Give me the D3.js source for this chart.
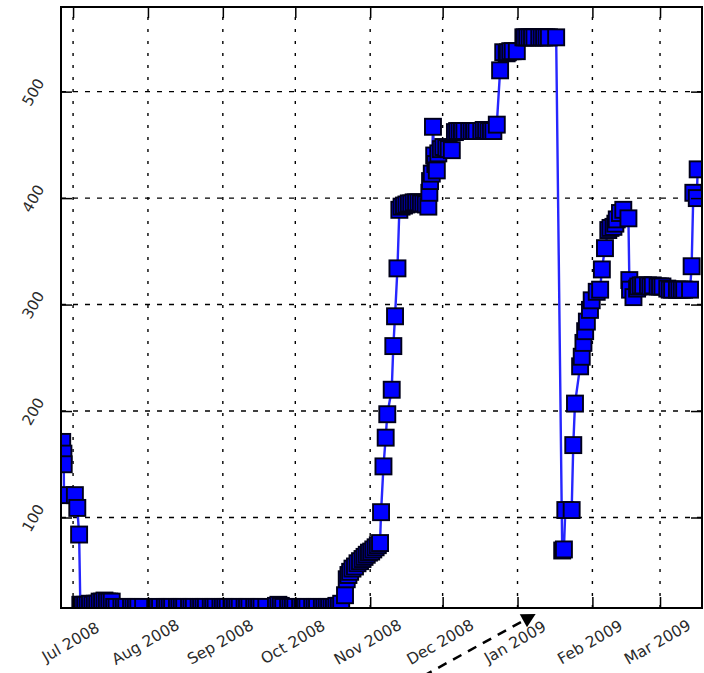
<!DOCTYPE html>
<html>
<head>
<meta charset="utf-8">
<script src="https://cdn.jsdelivr.net/npm/d3@7"></script>
<style>
  html, body { margin: 0; padding: 0; background: #fff; }
  svg { display: block; }
</style>
</head>
<body>
<svg id="chart" width="704" height="673"></svg>
<script>
// ---- data -------------------------------------------------------------
// Sample timestamps ("YYYY-MM-DD" or "YYYY-MM-DD HH:MM") and the value at each.
const dates = [
  "2008-06-26 12:00","2008-06-27 00:00","2008-06-27 03:00","2008-06-27 06:00","2008-07-01 18:00","2008-07-02 18:00","2008-07-03 12:00",
  "2008-07-04","2008-07-05","2008-07-06","2008-07-07","2008-07-08","2008-07-09","2008-07-10","2008-07-11",
  "2008-07-12","2008-07-13","2008-07-14","2008-07-15","2008-07-16","2008-07-17",
  "2008-07-18","2008-07-19","2008-07-21","2008-07-22","2008-07-23","2008-07-25","2008-07-26","2008-07-27","2008-07-28","2008-07-30",
  "2008-08-04","2008-08-05","2008-08-06","2008-08-08","2008-08-09","2008-08-10","2008-08-11","2008-08-13","2008-08-14","2008-08-15",
  "2008-08-16","2008-08-18","2008-08-19","2008-08-20","2008-08-22","2008-08-23","2008-08-24","2008-08-25","2008-08-27","2008-08-28",
  "2008-08-29","2008-08-31",
  "2008-09-01","2008-09-02","2008-09-03","2008-09-05","2008-09-06","2008-09-07","2008-09-08","2008-09-10","2008-09-11","2008-09-12",
  "2008-09-14","2008-09-15","2008-09-16","2008-09-17","2008-09-19",
  "2008-09-23","2008-09-24","2008-09-25","2008-09-26","2008-09-28","2008-09-29","2008-09-30",
  "2008-10-01","2008-10-03","2008-10-04","2008-10-05","2008-10-06","2008-10-08","2008-10-09","2008-10-10","2008-10-12","2008-10-13",
  "2008-10-14","2008-10-15","2008-10-16","2008-10-17","2008-10-18","2008-10-19","2008-10-20",
  "2008-10-21 14:00","2008-10-22 07:00","2008-10-23 00:00","2008-10-23 17:00","2008-10-24 16:00","2008-10-25 17:00","2008-10-26 18:00","2008-10-27 19:00","2008-10-28 20:00",
  "2008-10-29 16:00","2008-10-30 14:00","2008-10-31 12:00","2008-11-01 10:00","2008-11-02 07:00","2008-11-03 06:00","2008-11-04 04:00","2008-11-05 02:00",
  "2008-11-05 12:00","2008-11-06 12:00","2008-11-07 10:00","2008-11-08 02:00","2008-11-09 22:00","2008-11-10 14:00","2008-11-11 07:00","2008-11-12 07:00","2008-11-13 02:00",
  "2008-11-14","2008-11-15","2008-11-16","2008-11-17","2008-11-18","2008-11-19","2008-11-20","2008-11-21","2008-11-22","2008-11-23","2008-11-24",
  "2008-11-25 02:00","2008-11-25 12:00","2008-11-25 19:00","2008-11-26 12:00","2008-11-27 00:00","2008-11-27 12:00","2008-11-28 00:00","2008-11-28 14:00","2008-11-29 05:00",
  "2008-11-30 06:00","2008-12-01 07:00","2008-12-02 12:00","2008-12-03 12:00","2008-12-04 19:00",
  "2008-12-06 02:00","2008-12-07","2008-12-08","2008-12-09","2008-12-10","2008-12-12","2008-12-13","2008-12-14","2008-12-15","2008-12-17",
  "2008-12-18","2008-12-19","2008-12-20","2008-12-21","2008-12-22","2008-12-23 10:00","2008-12-24 19:00",
  "2008-12-26 02:00","2008-12-27 12:00","2008-12-28","2008-12-29","2008-12-30","2008-12-31 17:00",
  "2009-01-03 10:00","2009-01-04","2009-01-05","2009-01-06","2009-01-07","2009-01-08","2009-01-10","2009-01-11","2009-01-12","2009-01-13","2009-01-14","2009-01-17",
  "2009-01-19 12:00","2009-01-20 05:00","2009-01-20 19:00","2009-01-23 10:00","2009-01-24 02:00","2009-01-24 19:00",
  "2009-01-26 22:00","2009-01-27 14:00","2009-01-28 07:00","2009-01-29 00:00","2009-01-29 17:00","2009-01-31 00:00","2009-01-31 17:00",
  "2009-02-02 19:00","2009-02-04 05:00","2009-02-04 22:00","2009-02-06 05:00","2009-02-07 14:00","2009-02-08 12:00","2009-02-09 17:00","2009-02-10 12:00","2009-02-11 02:00","2009-02-12 10:00","2009-02-13 19:00",
  "2009-02-15 22:00","2009-02-16 07:00","2009-02-16 14:00","2009-02-18 00:00","2009-02-19 12:00","2009-02-20","2009-02-21","2009-02-22","2009-02-24","2009-02-25","2009-02-26","2009-02-28",
  "2009-03-01","2009-03-02","2009-03-04","2009-03-05","2009-03-06","2009-03-08","2009-03-09","2009-03-10","2009-03-11","2009-03-13 10:00","2009-03-14 02:00","2009-03-14 19:00","2009-03-16 05:00","2009-03-16 14:00"
];
const values = [
  171,160,150,121,121,109,84,
  18,18,18,18,19,18,19,19,
  21,21,22,21,21,21,
  16,16,16,16,16,16,16,16,16,16,
  16,16,16,16,16,16,16,16,16,16,
  16,16,16,16,16,16,16,16,16,16,
  16,16,
  16,16,16,16,16,16,16,16,16,16,
  16,16,16,16,16,
  17,18,17,16,16,16,16,
  16,16,16,16,16,16,16,16,16,16,
  16,16,16,16,17,17,19,
  27,42,46,49,52,54,57,59,61,
  63,65,67,68,70,72,74,76,
  105,148,175,197,220,261,289,334,389,
  392,393,394,395,395,396,396,396,395,395,394,
  392,405,416,423,467,440,432,426,442,
  446,448,447,446,445,
  462,463,463,463,463,463,463,463,463,463,
  464,464,463,463,463,469,520,
  537,536,537,538,538,538,
  551,551,551,551,551,551,551,551,551,551,551,551,
  69,70,107,107,168,207,
  242,251,264,275,284,295,304,
  312,314,333,353,370,372,373,376,380,386,389,
  381,323,314,307,315,317,318,318,318,317,318,317,
  317,317,315,314,314,314,314,314,314,314,336,405,400,427
];

// Axis ticks and view extents
const xTickDates  = ["2008-07-01","2008-08-01","2008-09-01","2008-10-01","2008-11-01","2008-12-01","2009-01-01","2009-02-01","2009-03-01"];
const xTickLabels = ["Jul 2008","Aug 2008","Sep 2008","Oct 2008","Nov 2008","Dec 2008","Jan 2009","Feb 2009","Mar 2009"];
const yTicks      = [100, 200, 300, 400, 500];
const xExtent     = ["2008-06-26 00:00", "2009-03-18 09:00"];
const yExtent     = [15, 579.5];

// Annotation arrow: from a point below the axis toward early January
const arrowFrom = "2008-11-23 00:00";
const arrowTo   = "2009-01-08 12:00";

// ---- helpers ---------------------------------------------------------------
const parseHM = d3.timeParse("%Y-%m-%d %H:%M");
const parseD  = d3.timeParse("%Y-%m-%d");
const parse = s => parseHM(s) || parseD(s);

const points = dates.map((d, i) => ({ t: parse(d), v: values[i] }));

// ---- layout ----------------------------------------------------------------
const plot = { left: 61, right: 702, top: 7, bottom: 608 };
const FONT = "DejaVu Sans";
const TEXT_COLOR = "#2a2a2a";

const svg = d3.select("#chart");

const x = d3.scaleTime()
  .domain(xExtent.map(parse))
  .range([plot.left, plot.right]);

const y = d3.scaleLinear()
  .domain(yExtent)
  .range([plot.bottom, plot.top]);

svg.append("defs").append("clipPath").attr("id", "plot-clip")
  .append("rect")
  .attr("x", plot.left).attr("y", plot.top)
  .attr("width", plot.right - plot.left)
  .attr("height", plot.bottom - plot.top);

// ---- grid ------------------------------------------------------------------
const grid = svg.append("g").attr("class", "grid");

grid.selectAll("line.vx")
  .data(xTickDates.map(parse))
  .join("line")
  .attr("class", "vx")
  .attr("x1", d => x(d)).attr("x2", d => x(d))
  .attr("y1", plot.bottom).attr("y2", plot.top)
  .attr("stroke", "#000")
  .attr("stroke-width", 1.4)
  .attr("stroke-dasharray", "3,9");

grid.selectAll("line.hy")
  .data(yTicks)
  .join("line")
  .attr("class", "hy")
  .attr("x1", plot.left).attr("x2", plot.right)
  .attr("y1", d => y(d)).attr("y2", d => y(d))
  .attr("stroke", "#000")
  .attr("stroke-width", 1.4)
  .attr("stroke-dasharray", "5,7");

// ---- series ----------------------------------------------------------------
const series = svg.append("g").attr("clip-path", "url(#plot-clip)");

series.append("path")
  .datum(points)
  .attr("fill", "none")
  .attr("stroke", "#2626ff")
  .attr("stroke-width", 2.4)
  .attr("stroke-linejoin", "round")
  .attr("d", d3.line().x(d => x(d.t)).y(d => y(d.v)));

const MS = 16;
series.selectAll("rect.mk")
  .data(points)
  .join("rect")
  .attr("class", "mk")
  .attr("x", d => x(d.t) - MS / 2)
  .attr("y", d => y(d.v) - MS / 2)
  .attr("width", MS)
  .attr("height", MS)
  .attr("fill", "#0000ff")
  .attr("stroke", "#00001a")
  .attr("stroke-width", 1.9);

// ---- axes ------------------------------------------------------------------
const TICK = 11;

const gBottom = svg.append("g")
  .attr("transform", `translate(0,${plot.bottom})`)
  .call(d3.axisBottom(x)
    .tickValues(xTickDates.map(parse))
    .tickSize(-TICK)
    .tickFormat((d, i) => xTickLabels[i]));
gBottom.select(".domain").remove();
gBottom.attr("font-family", FONT).attr("font-size", 15.5);
gBottom.selectAll(".tick line").attr("stroke", "#000").attr("stroke-width", 1.5);
gBottom.selectAll(".tick text")
  .attr("x", -3).attr("y", 34).attr("dy", "0.35em")
  .attr("text-anchor", "middle")
  .attr("fill", TEXT_COLOR)
  .attr("transform", "rotate(-30,-3,34)");

const gTop = svg.append("g")
  .attr("transform", `translate(0,${plot.top})`)
  .call(d3.axisTop(x)
    .tickValues(xTickDates.map(parse))
    .tickSize(-TICK)
    .tickFormat(""));
gTop.select(".domain").remove();
gTop.selectAll(".tick line").attr("stroke", "#000").attr("stroke-width", 1.5);

const gLeft = svg.append("g")
  .attr("transform", `translate(${plot.left},0)`)
  .call(d3.axisLeft(y)
    .tickValues(yTicks)
    .tickSize(-TICK)
    .tickFormat(d3.format("d")));
gLeft.select(".domain").remove();
gLeft.attr("font-family", FONT).attr("font-size", 15);
gLeft.selectAll(".tick line").attr("stroke", "#000").attr("stroke-width", 1.5);
gLeft.selectAll(".tick text")
  .attr("x", -28).attr("y", 0).attr("dy", "0.35em")
  .attr("text-anchor", "middle")
  .attr("fill", TEXT_COLOR)
  .attr("transform", "rotate(-60,-28,0)");

const gRight = svg.append("g")
  .attr("transform", `translate(${plot.right},0)`)
  .call(d3.axisRight(y)
    .tickValues(yTicks)
    .tickSize(-TICK)
    .tickFormat(""));
gRight.select(".domain").remove();
gRight.selectAll(".tick line").attr("stroke", "#000").attr("stroke-width", 1.5);

// frame
svg.append("rect")
  .attr("x", plot.left).attr("y", plot.top)
  .attr("width", plot.right - plot.left)
  .attr("height", plot.bottom - plot.top)
  .attr("fill", "none")
  .attr("stroke", "#000")
  .attr("stroke-width", 2);

// ---- annotation arrow ---------------------------------------------------------
const tail = [x(parse(arrowFrom)), plot.bottom + 68];
const tip  = [x(parse(arrowTo)),   plot.bottom + 6];
const dx = tip[0] - tail[0], dy = tip[1] - tail[1];
const len = Math.hypot(dx, dy);
const ux = dx / len, uy = dy / len;
const headLen = 14, headHalf = 7.5;
const base = [tip[0] - headLen * ux, tip[1] - headLen * uy];

svg.append("line")
  .attr("x1", tail[0]).attr("y1", tail[1])
  .attr("x2", base[0]).attr("y2", base[1])
  .attr("stroke", "#000")
  .attr("stroke-width", 2.5)
  .attr("stroke-dasharray", "9.5,7.5");

svg.append("path")
  .attr("d", d3.line()([
    tip,
    [base[0] - headHalf * uy, base[1] + headHalf * ux],
    [base[0] + headHalf * uy, base[1] - headHalf * ux]
  ]) + "Z")
  .attr("fill", "#000");
</script>
</body>
</html>
